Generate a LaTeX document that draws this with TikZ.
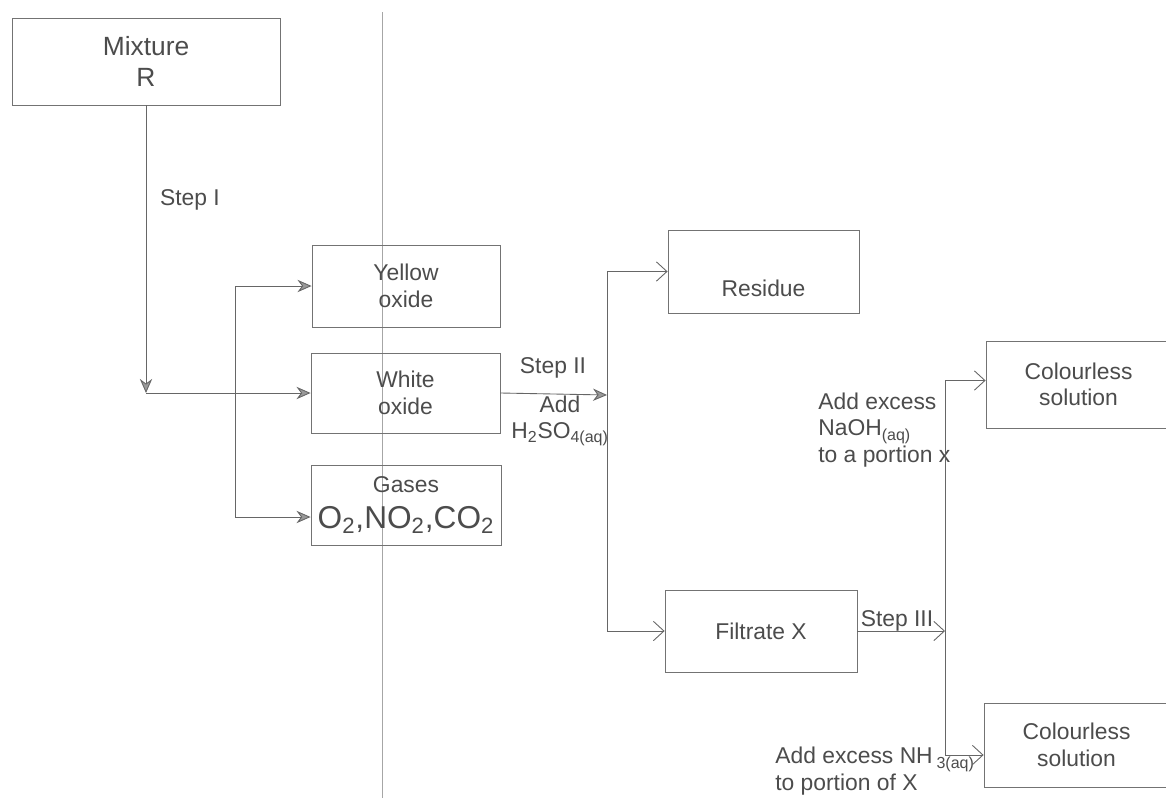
\documentclass[tikz,border=0pt]{standalone}
\usepackage{fontspec}
\setmainfont{Liberation Sans}
\usetikzlibrary{arrows.meta}
\begin{document}
\begin{tikzpicture}[x=0.02cm,y=-0.02cm,font=\fontsize{13}{15}\selectfont,
  box/.style={draw=black!55,line width=0.5pt,text=black!70,align=center,inner sep=0pt},
  wire/.style={draw=black!60,line width=0.5pt},
  hatch/.style={wire,-{Stealth[length=8pt,width=7pt,fill=black!40]}},
  barb/.style={wire,-{Straight Barb[length=6pt,width=11pt]}},
  lbl/.style={text=black!70,inner sep=0pt}]
\useasboundingbox (0,0) rectangle (1166,798);
\fill[white] (0,0) rectangle (1166,798);
\draw[black!35,line width=0.4pt] (382,12)--(382,798);
\node[box,minimum width=5.36cm,minimum height=1.74cm,font=\fontsize{15}{18}\selectfont] (mixture) at (146,61.5) {Mixture\\R};
\node[box,minimum width=3.76cm,minimum height=1.64cm] (yellow) at (406,286) {Yellow\\oxide};
\node[box,minimum width=3.78cm,minimum height=1.6cm] (white) at (405.5,393) {White\\oxide};
\node[box,minimum width=3.8cm,minimum height=1.6cm,font=\fontsize{13}{20}\selectfont] (gases) at (406,505) {Gases\\{\fontsize{18}{21}\selectfont O\textsubscript{2},NO\textsubscript{2},CO\textsubscript{2}}};
\node[box,minimum width=3.82cm,minimum height=1.66cm,text height=1.0cm,text depth=0pt] (residue) at (763.5,271.5) {Residue};
\node[box,minimum width=3.84cm,minimum height=1.64cm] (filtrate) at (761,631) {Filtrate X};
\node[box,minimum width=3.7cm,minimum height=1.74cm] (soltop) at (1078.5,384.5) {Colourless\\solution};
\node[box,minimum width=3.7cm,minimum height=1.68cm] (solbot) at (1076.5,745) {Colourless\\solution};
\node[lbl] (step1) at (190,200) {Step I};
\node[lbl] (step2) at (553,368) {Step II};
\node[lbl,align=center] (add2) at (560,421) {Add\\H\textsubscript{2}SO\textsubscript{4(aq)}};
\node[lbl] (step3) at (897,621) {Step III};
\node[lbl,align=left,anchor=west] (naoh) at (818,430) {Add excess\\NaOH\textsubscript{(aq)}\\to a portion x};
\node[lbl,align=left,anchor=west] (nh3) at (775,771) {Add excess NH\,\textsubscript{3(aq)}\\to portion of X};
\coordinate (bend) at (146,393);
\coordinate (split) at (235,393);
\coordinate (jn2) at (607,395);
\coordinate (jn3) at (945,631);
\draw[hatch] (mixture.south) -- (bend);
\draw[hatch] (bend) -- (white.west);
\draw[hatch] (split) |- (yellow.west);
\draw[hatch] (split) |- ([yshift=-0.24cm]gases.west);
\draw[hatch] (white.east) -- (jn2);
\draw[barb] (jn2) |- (residue.west);
\draw[barb] (jn2) |- (filtrate.west);
\draw[barb] (filtrate.east) -- (jn3);
\draw[barb] (jn3) |- ([yshift=0.08cm]soltop.west);
\draw[barb] (jn3) |- ([yshift=-0.2cm]solbot.west);
\end{tikzpicture}
\end{document}
